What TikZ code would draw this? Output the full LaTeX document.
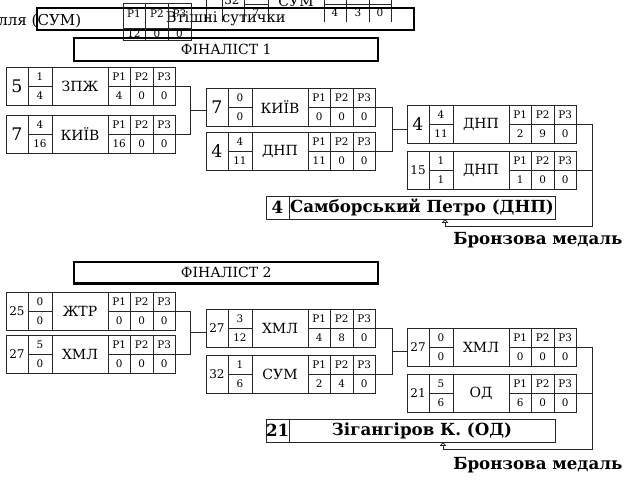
\documentclass[tikz,border=0pt]{standalone}
\usepackage{fontspec}
\setmainfont{DejaVu Serif}
\usetikzlibrary{arrows.meta}

\newcommand{\smseed}{\fontsize{9}{9}\selectfont}
\newcommand{\bout}[9]{%
  \begin{scope}[shift={(#2)}]
    \node[seedcell] (#1s) at (0,0) {#3};
    \node[fraccell] (#1fa) at (22,0) {#4};
    \node[fraccell] (#1fb) at (22,19) {#5};
    \node[clubcell] (#1c) at (46,0) {#6};
    \node[rescell] (#1p1) at (102,0) {P1};
    \node[rescell] (#1p2) at (124.5,0) {P2};
    \node[rescell] (#1p3) at (147,0) {P3};
    \node[rescell] (#1r1) at (102,19) {#7};
    \node[rescell] (#1r2) at (124.5,19) {#8};
    \node[rescell] (#1r3) at (147,19) {#9};
  \end{scope}}

\begin{document}
\begin{tikzpicture}[x=0.75pt,y=-0.75pt,
  cell/.style={draw=black!85,line width=0.6pt,inner sep=0pt,outer sep=0pt,anchor=north west},
  seedcell/.style={cell,minimum width=16.5pt,minimum height=28.5pt,font=\fontsize{13}{13}\selectfont},
  fraccell/.style={cell,minimum width=18pt,minimum height=14.25pt,font=\fontsize{7.8}{7.8}\selectfont},
  clubcell/.style={cell,minimum width=42pt,minimum height=28.5pt,font=\fontsize{10.5}{10.5}\selectfont},
  rescell/.style={cell,minimum width=16.875pt,minimum height=14.25pt,font=\fontsize{7.8}{7.8}\selectfont},
  wire/.style={draw=black!85,line width=0.6pt},
  thinline/.style={draw=black!85,line width=0.6pt},
  heavybox/.style={draw=black,line width=1.8pt,inner sep=0pt,anchor=north west},
  finseed/.style={cell,minimum width=17.25pt,minimum height=17.25pt,font=\bfseries\fontsize{12.5}{12.5}\selectfont},
  finname/.style={cell,minimum width=199.5pt,minimum height=17.25pt,font=\bfseries\fontsize{12.5}{12.5}\selectfont},
  medal/.style={anchor=west,inner sep=0pt,font=\bfseries\fontsize{12.5}{12.5}\selectfont}]
\useasboundingbox (0,0) rectangle (636,495);
\clip (0,0) rectangle (636,495);

% clipped leftovers at the top
\draw[thinline] (206,-10) -- (206,22) (222,-10) -- (222,22) (244,-10) -- (244,22) (268,-10) -- (268,22)
  (324,-10) -- (324,22) (346.5,-10) -- (346.5,22) (369,-10) -- (369,22) (391,-10) -- (391,22)
  (244,4.5) -- (268,4.5) (324,4.5) -- (391,4.5);
\node[font=\smseed] (t32) at (232,0) {32};
\node[font=\fontsize{7.8}{7.8}\selectfont] (t7) at (256,13) {7};
\node[font=\fontsize{10.5}{10.5}\selectfont] (tsum) at (296,1) {СУМ};
\node[font=\fontsize{7.8}{7.8}\selectfont] (tr1) at (335,13) {4};
\node[font=\fontsize{7.8}{7.8}\selectfont] (tr2) at (358,13) {3};
\node[font=\fontsize{7.8}{7.8}\selectfont] (tr3) at (380,13) {0};
\node[heavybox,minimum width=282.75pt,minimum height=16.5pt,font=\fontsize{11}{11}\selectfont] (cons) at (36,7) {Втішні сутички};
\node[anchor=west,inner sep=0pt,font=\fontsize{11.3}{11.3}\selectfont] (lname) at (-2,21) {лля (СУМ)};
\draw[thinline] (123,3) rectangle (191,40) (123,28) -- (191,28) (145.5,3) -- (145.5,40) (168,3) -- (168,40);
\node[font=\fontsize{7.8}{7.8}\selectfont] (q1) at (134,14) {P1};
\node[font=\fontsize{7.8}{7.8}\selectfont] (q2) at (157,14) {P2};
\node[font=\fontsize{7.8}{7.8}\selectfont] (q3) at (179.5,14) {P3};
\node[font=\fontsize{7.8}{7.8}\selectfont] (q4) at (134,34) {12};
\node[font=\fontsize{7.8}{7.8}\selectfont] (q5) at (157,34) {0};
\node[font=\fontsize{7.8}{7.8}\selectfont] (q6) at (179.5,34) {0};

% finalist 1
\node[heavybox,minimum width=228pt,minimum height=17.25pt,font=\fontsize{10.5}{10.5}\selectfont] (fin1) at (73,37) {ФІНАЛІСТ 1};
\bout{A}{6,67}{5}{1}{4}{ЗПЖ}{4}{0}{0}
\bout{B}{6,115}{7}{4}{16}{КИЇВ}{16}{0}{0}
\bout{C}{206,88}{7}{0}{0}{КИЇВ}{0}{0}{0}
\bout{D}{206,132}{4}{4}{11}{ДНП}{11}{0}{0}
\bout{E}{407,105}{4}{4}{11}{ДНП}{2}{9}{0}
\bout{F}{407,151}{\smseed 15}{1}{1}{ДНП}{1}{0}{0}
\node[finseed] (w1s) at (266,196) {4};
\node[finname] (w1n) at (289,196) {Самборський Петро (ДНП)};

% finalist 2
\node[heavybox,minimum width=228pt,minimum height=16pt,font=\fontsize{10.5}{10.5}\selectfont] (fin2) at (73,261) {ФІНАЛІСТ 2};
\bout{G}{6,292}{\smseed 25}{0}{0}{ЖТР}{0}{0}{0}
\bout{H}{6,335}{\smseed 27}{5}{0}{ХМЛ}{0}{0}{0}
\bout{I}{206,309}{\smseed 27}{3}{12}{ХМЛ}{4}{8}{0}
\bout{J}{206,355}{\smseed 32}{1}{6}{СУМ}{2}{4}{0}
\bout{K}{407,328}{\smseed 27}{0}{0}{ХМЛ}{0}{0}{0}
\bout{L}{407,374}{\smseed 21}{5}{6}{ОД}{6}{0}{0}
\node[finseed] (w2s) at (266,419) {21};
\node[finname] (w2n) at (289,419) {Зігангіров К. (ОД)};

\foreach \a/\b/\c/\x in {A/B/C/190,C/D/E/392,G/H/I/190,I/J/K/392}{
  \coordinate (j\a) at (\x,0);
  \draw[wire] (\a p3.south east) -- (\a p3.south east -| j\a) -- (\b p3.south east -| j\a) -- (\b p3.south east);
  \path (\a p3.south east -| j\a) -- (\b p3.south east -| j\a) coordinate[midway] (m\a);
  \draw[wire] (m\a) -- (m\a -| \c s.west);
}

\coordinate (k1) at (592,226);
\coordinate (a1) at (445,226);
\draw[wire] (Ep3.south east) -| (k1) -- (a1);
\draw[wire] (Fp3.south east) -- (Fp3.south east -| k1);
\draw[wire,-{Triangle[open,length=3pt,width=5pt]}] (a1) -- (a1 |- w1n.south);
\node[medal] (b1) at (453,240) {Бронзова медаль};

\coordinate (k2) at (592,449);
\coordinate (a2) at (443,449);
\draw[wire] (Kp3.south east) -| (k2) -- (a2);
\draw[wire] (Lp3.south east) -- (Lp3.south east -| k2);
\draw[wire,-{Triangle[open,length=3pt,width=5pt]}] (a2) -- (a2 |- w2n.south);
\node[medal] (b2) at (453,465) {Бронзова медаль};
\end{tikzpicture}
\end{document}
